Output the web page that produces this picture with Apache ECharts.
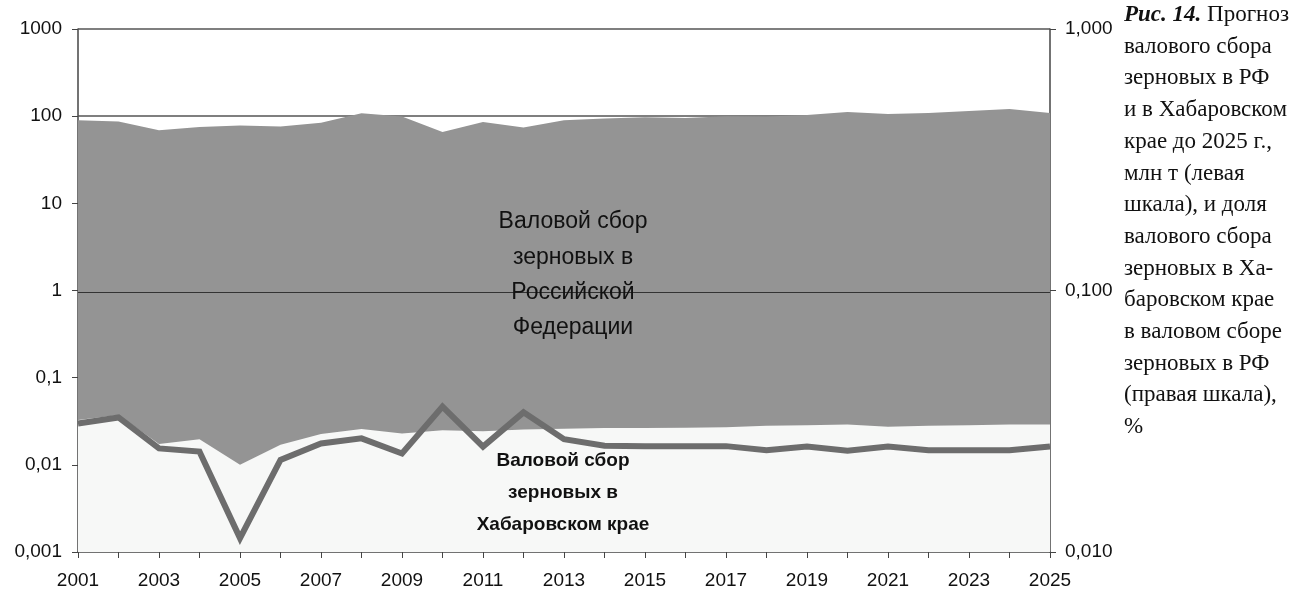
<!DOCTYPE html>
<html><head><meta charset="utf-8">
<script src="https://cdn.jsdelivr.net/npm/echarts@6/dist/echarts.min.js"></script>
<style>html,body{margin:0;padding:0;background:#fff}#c{width:1309px;height:595px}</style>
</head><body><div id="c"></div>
<script>
const years = ['2001','2002','2003','2004','2005','2006','2007','2008','2009','2010','2011','2012','2013','2014','2015','2016','2017','2018','2019','2020','2021','2022','2023','2024','2025'];
const rfHarvest = [90,87,69,75,78,76,84,108,99,66,86,74,90,94,97,95,100,99,103,112,106,109,115,121,109];
const khHarvest = [0.0327,0.0373,0.0173,0.0196,0.0100,0.0170,0.0226,0.0258,0.0229,0.0250,0.0243,0.0255,0.0260,0.0265,0.0265,0.0266,0.0270,0.0280,0.0285,0.0290,0.0274,0.0280,0.0285,0.0290,0.0290];
const khShare = [0.0310,0.0327,0.0249,0.0242,0.0113,0.0225,0.0260,0.0272,0.0238,0.0360,0.0253,0.0342,0.0270,0.0255,0.0254,0.0254,0.0254,0.0245,0.0253,0.0244,0.0253,0.0245,0.0245,0.0245,0.0253];
const leftTicks = ['0,001','0,01','0,1','1','10','100','1000'];
const rightTicks = ['0,010','0,100','1,000'];
const rfLabel = ['Валовой сбор','зерновых в','Российской','Федерации'];
const khLabel = ['Валовой сбор','зерновых в','Хабаровском крае'];
const captionLines = ['{b|Рис. 14.} Прогноз','валового сбора','зерновых в РФ','и в Хабаровском','крае до 2025 г.,','млн т (левая','шкала), и доля','валового сбора','зерновых в Ха-','баровском крае','в валовом сборе','зерновых в РФ','(правая шкала),','%'];

const chart = echarts.init(document.getElementById('c'));
const sans = 'Liberation Sans, Arial, sans-serif';
const serif = 'Liberation Serif, Times New Roman, serif';
const graphics = [];
rfLabel.forEach((t,i)=>graphics.push({type:'text',x:573,y:222+i*35.3,style:{text:t,font:'23px '+sans,fill:'#111',textAlign:'center',textVerticalAlign:'middle'},z:20}));
khLabel.forEach((t,i)=>graphics.push({type:'text',x:563,y:461+i*32,style:{text:t,font:'bold 19px '+sans,fill:'#111',textAlign:'center',textVerticalAlign:'middle'},z:20}));
captionLines.forEach((t,i)=>graphics.push({type:'text',x:1124,y:15+i*31.7,style:{text:t,fontFamily:serif,fontSize:23,fill:'#111',verticalAlign:'middle',rich:{b:{fontFamily:serif,fontSize:23,fontWeight:'bold',fontStyle:'italic',fill:'#111'}}},z:20}));

function logIdx(v, base){ return Math.round(Math.log10(v) - base); }

chart.setOption({
  animation:false,
  grid:{left:78,right:259,top:29,bottom:43},
  graphic:graphics,
  xAxis:{type:'category',data:years,boundaryGap:false,
    axisLine:{lineStyle:{color:'#444',width:1.5}},
    axisTick:{show:true,interval:0,length:6,lineStyle:{color:'#444'}},
    axisLabel:{interval:1,color:'#111',fontSize:19,fontFamily:sans,margin:19},
    splitLine:{show:false}},
  yAxis:[
    {type:'log',logBase:10,min:0.001,max:1000,position:'left',
     axisLine:{show:true,lineStyle:{color:'#444',width:1.5}},
     axisTick:{show:true,length:6,lineStyle:{color:'#444'}},
     axisLabel:{color:'#111',fontSize:19,fontFamily:sans,margin:16,formatter:v=>leftTicks[logIdx(v,-3)]},
     splitLine:{show:false}},
    {type:'log',logBase:10,min:0.01,max:1,position:'right',
     axisLine:{show:true,lineStyle:{color:'#444',width:1.5}},
     axisTick:{show:true,length:6,lineStyle:{color:'#444'}},
     axisLabel:{color:'#111',fontSize:19,fontFamily:sans,margin:15,formatter:v=>rightTicks[logIdx(v,-2)]},
     splitLine:{show:false}}
  ],
  series:[
    {name:'RF',type:'line',data:rfHarvest,yAxisIndex:0,z:2,symbol:'none',
     lineStyle:{width:0},areaStyle:{color:'#949494',opacity:1,origin:'start'},
     markLine:{silent:true,symbol:'none',z:1,label:{show:false},lineStyle:{color:'#555',type:'solid',width:1.5},data:[{yAxis:100},{yAxis:1000}]}},
    {name:'KH',type:'line',data:khHarvest,yAxisIndex:0,z:3,symbol:'none',
     lineStyle:{width:0},areaStyle:{color:'#f7f8f7',opacity:1,origin:'start'},
     markLine:{silent:true,symbol:'none',z:10,label:{show:false},lineStyle:{color:'#333',type:'solid',width:1.2},data:[{yAxis:0.96}]}},
    {name:'share',type:'line',data:khShare,yAxisIndex:1,z:5,symbol:'none',
     lineStyle:{color:'#6d6d6d',width:6,join:'miter'}}
  ]
});
</script></body></html>
